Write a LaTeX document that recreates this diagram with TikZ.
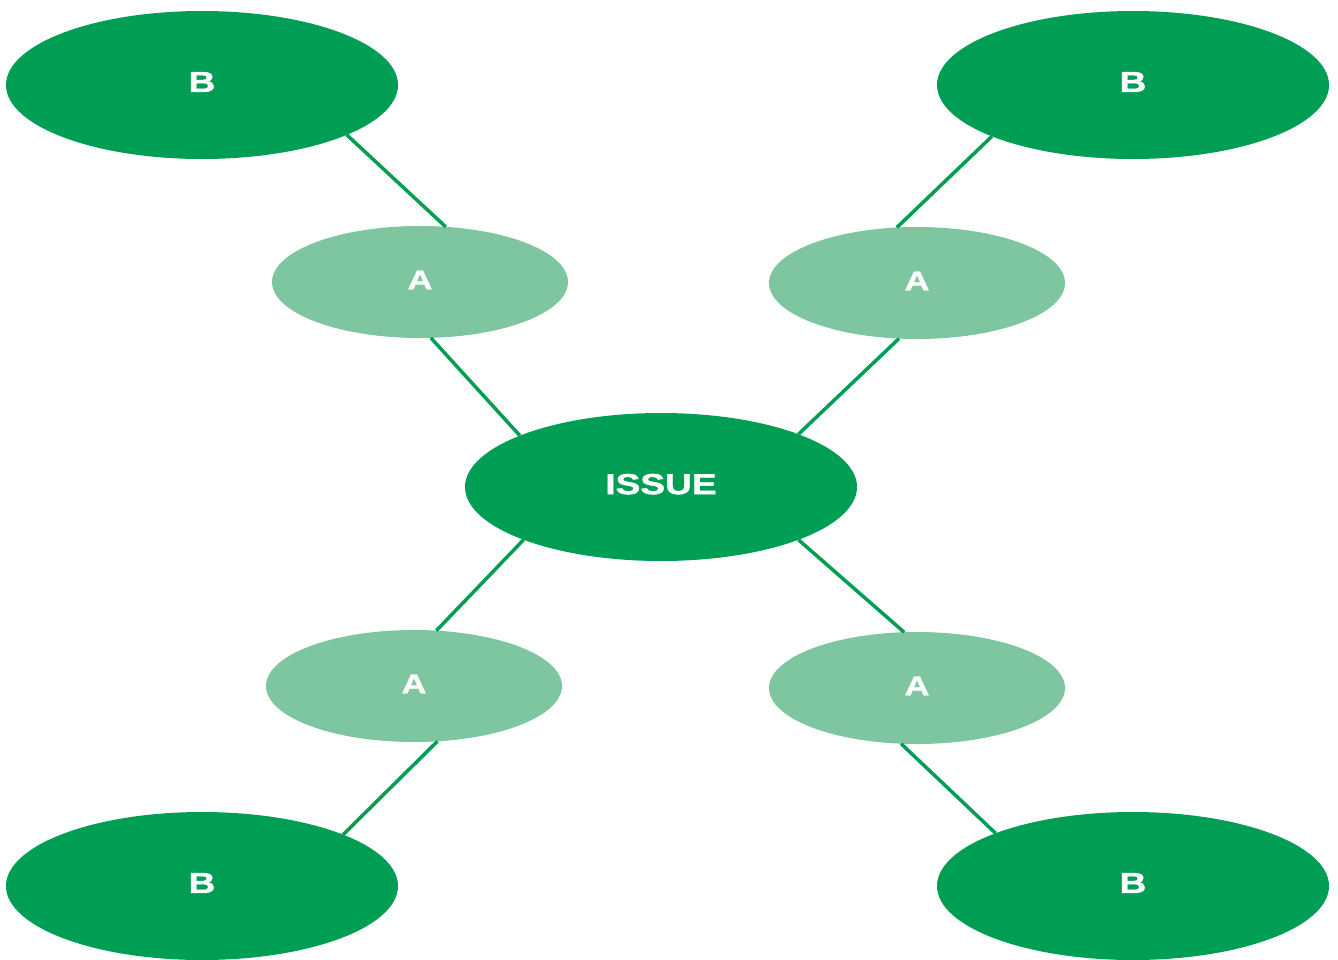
\documentclass[tikz,border=0pt]{standalone}
\usepackage{fontspec}
\setmainfont{Liberation Sans}
\newfontfamily\widefont[FakeStretch=1.28,FakeBold=1.2]{Liberation Sans Bold}
\usepackage{tikz}
\usetikzlibrary{shapes.geometric}
\definecolor{darkgreen}{HTML}{009E55}
\definecolor{lightgreen}{HTML}{7DC6A0}
\tikzstyle{bignode}=[ellipse, fill=darkgreen, draw=none, text=white, inner sep=0pt, outer sep=0pt, text depth=6pt, minimum width=392pt, minimum height=148pt, font=\widefont\fontsize{29}{29}\selectfont]
\tikzstyle{smallnode}=[ellipse, fill=lightgreen, draw=none, text=white, inner sep=0pt, outer sep=0pt, text depth=4pt, minimum width=296pt, minimum height=112pt, font=\widefont\fontsize{27}{27}\selectfont]
\tikzstyle{link}=[draw=darkgreen, line width=3.5pt]

\begin{document}
\begin{tikzpicture}[x=1pt, y=-1pt]
    \useasboundingbox (0,0) rectangle (1338,959);

    \node[bignode] (issue) at (661,487) {ISSUE};

    \node[smallnode] (a1) at (420,282) {A};
    \node[smallnode] (a2) at (917,283) {A};
    \node[smallnode] (a3) at (414,686) {A};
    \node[smallnode] (a4) at (917,688) {A};

    \node[bignode] (b1) at (202,85) {B};
    \node[bignode] (b2) at (1133,85) {B};
    \node[bignode] (b3) at (202,886) {B};
    \node[bignode] (b4) at (1133,886) {B};

    \draw[link] (b1.-19.3) -- (a1.65.2);
    \draw[link] (a1.-79.9) -- (issue.160.2);
    \draw[link] (b2.-160.5) -- (a2.110);
    \draw[link] (a2.-108.7) -- (issue.21.4);
    \draw[link] (issue.-159) -- (a3.68.2);
    \draw[link] (issue.-21.7) -- (a4.103.3);
    \draw[link] (a3.-67.7) -- (b3.20.9);
    \draw[link] (a4.-106.9) -- (b4.159.1);

  \end{tikzpicture}
\end{document}
